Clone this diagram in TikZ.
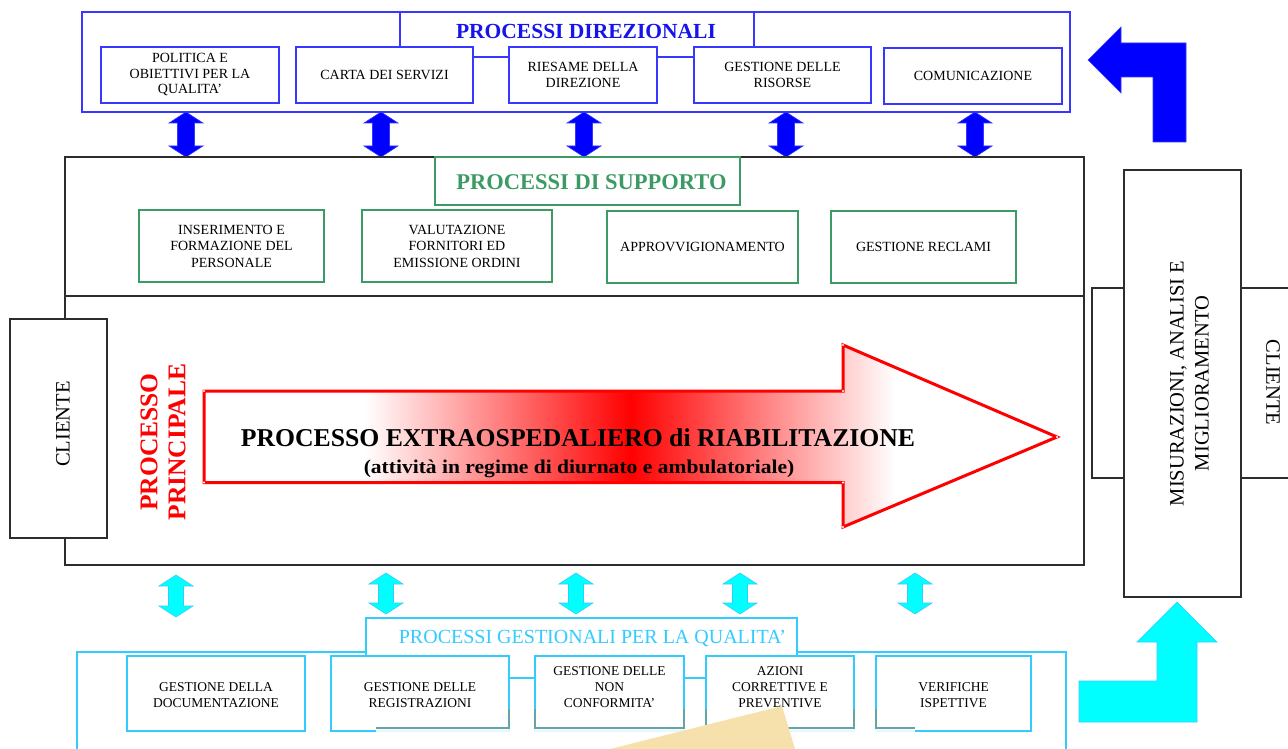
\documentclass[tikz,border=0pt]{standalone}
\usepackage{fontspec}
\setmainfont{Liberation Serif}
\definecolor{dblue}{RGB}{0,0,255}
\definecolor{lblue}{RGB}{55,55,255}
\definecolor{tblue}{RGB}{20,20,235}
\definecolor{sgreen}{RGB}{60,155,100}
\definecolor{cyanF}{RGB}{0,255,255}
\definecolor{cyanL}{RGB}{51,204,255}
\definecolor{midgray}{RGB}{45,45,45}
\definecolor{ghost}{RGB}{100,165,165}
\definecolor{beige}{RGB}{246,225,172}
\begin{document}
\begin{tikzpicture}[x=1pt,y=-1pt,
  sz/.style 2 args={minimum width=#1pt, minimum height=#2pt},
  bluebox/.style={draw=lblue, line width=1.4pt, fill=white, inner sep=0pt, align=center, text=black, font=\fontsize{14}{15.5}\selectfont},
  greenbox/.style={draw=sgreen, line width=1.4pt, fill=white, inner sep=0pt, align=center, text=black, font=\fontsize{14}{16.5}\selectfont},
  cyanbox/.style={draw=cyanL, line width=1.4pt, fill=white, inner sep=0pt, align=center, text=black, font=\fontsize{13.5}{16}\selectfont},
  cyantext/.style={inner sep=0pt, align=center, text=black, font=\fontsize{13.5}{16}\selectfont},
  blackbox/.style={draw=midgray, line width=1.3pt, fill=white, inner sep=0pt},
  barrow/.style={fill=dblue, draw=lblue, line width=0.6pt},
  carrow/.style={fill=cyanF, draw=cyanL, line width=0.6pt},
  bigtext/.style={inner sep=0pt, font=\fontsize{20.5}{25}\selectfont, align=center}
]
\useasboundingbox (0,0) rectangle (1288,749);
\clip (0,0) rectangle (1288,749);
\fill[white] (0,0) rectangle (1288,749);

% ---------- PROCESSI DIREZIONALI ----------
\node[draw=lblue, line width=1.2pt, sz={988}{100}, inner sep=0pt] (dirouter) at (576,62) {};
\node[draw=lblue, line width=1.2pt, fill=white, sz={354}{45}, inner sep=0pt] (dirtitlebox) at (577,34.5) {};
\node[inner sep=0pt, text=tblue, font=\fontsize{21.5}{24}\selectfont\bfseries] (dirtitle) at (586,31.5) {PROCESSI DIREZIONALI};
\node[bluebox, sz={178}{56}] (pol) at (190,75) {POLITICA E\\OBIETTIVI PER LA\\QUALITA'};
\node[bluebox, sz={177}{56}] (carta) at (384.5,75) {CARTA DEI SERVIZI};
\node[bluebox, sz={148}{56}] (ries) at (583,75) {RIESAME DELLA\\DIREZIONE};
\node[bluebox, sz={177}{56}] (gris) at (782.5,75) {GESTIONE DELLE\\RISORSE};
\node[bluebox, sz={178}{56}] (com) at (973,76) {COMUNICAZIONE};

% blue double arrows
\foreach \x in {186,381,584,786,975}{
  \filldraw[barrow] (\x,112) -- ++(17,11) -- ++(-8.5,0) -- (\x+8.5,146) -- ++(8.5,0) -- (\x,157)
     -- ++(-17,-11) -- ++(8.5,0) -- (\x-8.5,123) -- ++(-8.5,0) -- cycle;
}

% blue L arrow
\filldraw[barrow] (1088,60) -- (1121,27) -- (1121,43) -- (1186,43) -- (1186,142) -- (1153,142)
   -- (1153,77) -- (1121,77) -- (1121,93) -- cycle;

% ---------- middle block ----------
\draw[midgray, line width=1.3pt] (1092,288) rectangle (1300,478);
\node[draw=midgray, line width=1.3pt, sz={1019}{408}, inner sep=0pt] (mid) at (574.5,361) {};
\draw[midgray, line width=1.3pt] (mid.west |- 0,296) coordinate (dl) -- (mid.east |- 0,296) coordinate (dr);
\node[draw=sgreen, line width=1.4pt, fill=white, sz={305}{48}, inner sep=0pt] (suptitlebox) at (587.5,181) {};
\node[inner sep=0pt, text=sgreen, font=\fontsize{22.5}{25}\selectfont\bfseries] (suptitle) at (591.5,182) {PROCESSI DI SUPPORTO};
\node[greenbox, sz={185}{72}] (ins) at (231.5,246) {INSERIMENTO E\\FORMAZIONE DEL\\PERSONALE};
\node[greenbox, sz={190}{72}] (val) at (457,246) {VALUTAZIONE\\FORNITORI ED\\EMISSIONE ORDINI};
\node[greenbox, sz={191}{72}] (appr) at (702.5,247) {APPROVVIGIONAMENTO};
\node[greenbox, sz={185}{72}] (recl) at (923.5,247) {GESTIONE RECLAMI};

% left cliente
\node[blackbox, sz={97}{219}] (clientL) at (58.5,428.5) {};
\node[bigtext, rotate=90] (clientLt) at (63,424) {CLIENTE};

% processo principale
\node[inner sep=0pt, rotate=90, align=center, text=red, font=\fontsize{25.5}{28}\selectfont\bfseries] (pp) at (163,442) {PROCESSO\\PRINCIPALE};

% big arrow
\begin{scope}
\clip (204,391) -- (843,391) -- (843,345) -- (1057,437) -- (843,527) -- (843,482.5) -- (204,482.5) -- cycle;
\fill[left color=white, right color=red] (365,340) rectangle (631,530);
\fill[left color=red, right color=white] (630,340) rectangle (895,530);
\end{scope}
\draw[red, line width=3pt, line join=miter] (204,391) -- (843,391) -- (843,345) -- (1057,437) -- (843,527) -- (843,482.5) -- (204,482.5) -- cycle;
\foreach \p in {(204,391),(843,391),(843,345),(1057,437),(843,527),(843,482.5),(204,482.5)}
  \fill[white] \p circle (1.2);
\node[anchor=base, inner sep=0pt, font=\fontsize{25.7}{30}\selectfont\bfseries] (maintxt) at (578,446) {PROCESSO EXTRAOSPEDALIERO di RIABILITAZIONE};
\node[anchor=base, inner sep=0pt, font=\fontsize{19.5}{22}\selectfont\bfseries] (subtxt) at (579,473) {\scalebox{1.105}[1]{(attività in regime di diurnato e ambulatoriale)}};

% right side
\node[blackbox, sz={117}{427}] (mis) at (1182.5,383.5) {};
\node[bigtext, rotate=90] (mist) at (1189.5,383.5) {MISURAZIONI, ANALISI E\\MIGLIORAMENTO};
\node[bigtext, rotate=-90] (clientRt) at (1273,382.5) {CLIENTE};

% cyan double arrows
\foreach \x/\t/\b in {176/575/617, 386/573/614, 576/573/614, 740/573/614, 915/573/614}{
  \filldraw[carrow] (\x,\t) -- ++(17,11) -- ++(-9.5,0) -- (\x+7.5,\b-11) -- ++(9.5,0) -- (\x,\b)
     -- ++(-17,-11) -- ++(9.5,0) -- (\x-7.5,\t+11) -- ++(-9.5,0) -- cycle;
}
% cyan L arrow
\filldraw[carrow] (1177,602) -- (1217,642) -- (1197,642) -- (1197,722) -- (1079,722) -- (1079,681)
   -- (1157,681) -- (1157,642) -- (1137,642) -- cycle;

% ---------- PROCESSI GESTIONALI ----------
\node[draw=cyanL, line width=1.2pt, sz={989}{108}, inner sep=0pt] (gesouter) at (571.5,706) {};
\node[draw=cyanL, line width=1.2pt, fill=white, sz={431}{60}, inner sep=0pt] (gestitlebox) at (581.5,648) {};
\node[inner sep=0pt, text=cyanL, font=\fontsize{20}{22}\selectfont] (gestitle) at (592.5,638) {PROCESSI GESTIONALI PER LA QUALITA'};
\node[cyanbox, sz={178}{75}] (doc) at (216,693.5) {};
\node[cyantext] (doct) at (216,695) {GESTIONE DELLA\\DOCUMENTAZIONE};
\node[cyanbox, sz={178}{75}] (reg) at (420,693.5) {};
\node[cyantext] (regt) at (420,695) {GESTIONE DELLE\\REGISTRAZIONI};
\node[cyanbox, sz={149}{75}] (nonc) at (609.5,693.5) {};
\node[cyantext] (nonct) at (609.5,687) {GESTIONE DELLE\\NON\\CONFORMITA'};
\node[cyanbox, sz={148}{75}] (azi) at (780,693.5) {};
\node[cyantext] (azit) at (780,687) {AZIONI\\CORRETTIVE E\\PREVENTIVE};
\node[cyanbox, sz={155}{75}] (ver) at (953.5,693.5) {};
\node[cyantext] (vert) at (953.5,695) {VERIFICHE\\ISPETTIVE};

% overlay artefact at the bottom
\fill[white, opacity=0.88] (376,709) rectangle (915,749);
\draw[ghost, line width=1.6pt] (376,728) -- (509,728) -- (509,709);
\draw[ghost, line width=1.6pt] (535,709) -- (535,728) -- (684,728) -- (684,709);
\draw[ghost, line width=1.6pt] (706,709) -- (706,728) -- (854,728) -- (854,709);
\draw[ghost, line width=1.6pt] (876,709) -- (876,728) -- (915,728);
\fill[beige] (610,749) -- (782,706) -- (795,749) -- cycle;
\end{tikzpicture}
\end{document}
